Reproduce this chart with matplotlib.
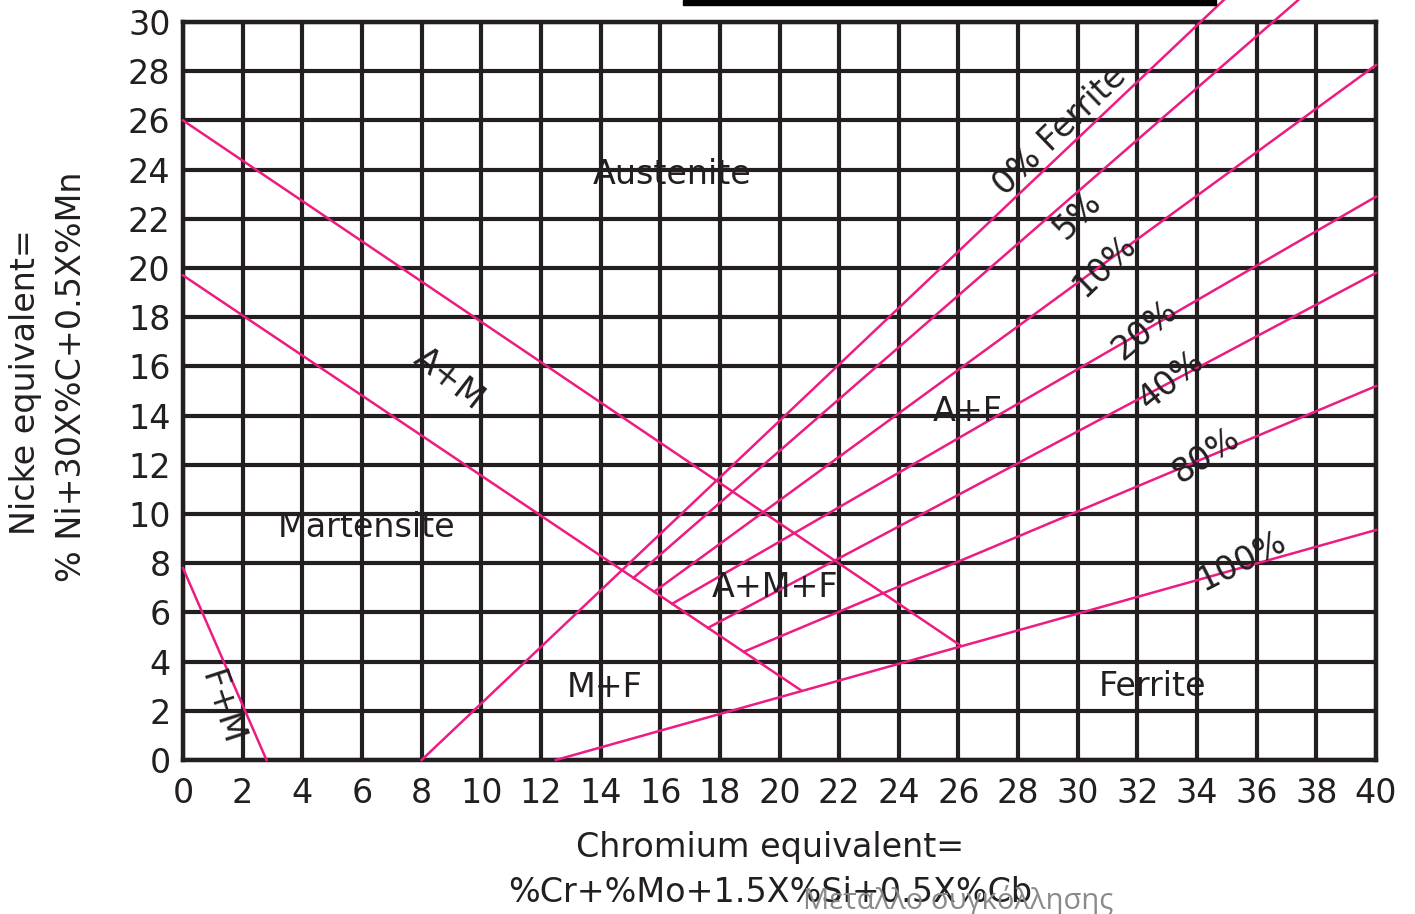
import matplotlib.pyplot as plt
from matplotlib.patches import Rectangle

# Schaeffler constitution diagram
cr_ticks = list(range(0, 41, 2))
ni_ticks = list(range(0, 31, 2))

# A / A+M and A+M / M boundaries, F+M corner line
am_upper_cr = [0.0, 26.05]
am_upper_ni = [26.0, 4.67]
am_lower_cr = [0.0, 20.7]
am_lower_ni = [19.7, 2.85]
fm_cr = [0.0, 2.8]
fm_ni = [7.8, 0.0]

# iso-ferrite lines: start and end points
ferrite_pct = ["0% Ferrite", "5%", "10%", "20%", "40%", "80%", "100%"]
ferrite_cr_start = [8.0, 15.1, 15.8, 16.4, 17.6, 18.8, 12.5]
ferrite_ni_start = [0.0, 7.4, 6.84, 6.35, 5.37, 4.4, 0.0]
ferrite_cr_end = [34.9, 37.4, 40.0, 40.0, 40.0, 40.0, 40.0]
ferrite_ni_end = [30.9, 30.9, 28.25, 22.9, 19.8, 15.2, 9.35]

# label placement along the ferrite lines
ferrite_lab_cr = [29.4, 30.0, 30.9, 32.25, 33.15, 34.3, 35.5]
ferrite_lab_ni = [25.6, 22.15, 20.1, 17.5, 15.45, 12.4, 8.1]
ferrite_lab_rot = [44, 45, 44, 40, 39, 34, 27]

regions = ["Austenite", "Martensite", "A+F", "A+M+F", "M+F", "Ferrite", "A+M", "F+M"]
region_cr = [16.4, 6.17, 26.3, 19.85, 14.15, 32.5, 8.9, 1.3]
region_ni = [23.8, 9.47, 14.15, 7.0, 2.93, 3.0, 15.5, 2.1]
region_rot = [0, 0, 0, 0, 0, 0, -38, -72]

INK = "#231f20"
PINK = "#ec1c80"

fig = plt.figure(figsize=(14.15, 9.14), dpi=100)
ax = fig.add_axes([183 / 1415, 154 / 914, 1193 / 1415, 738 / 914])

ax.set_xlim(0, 40)
ax.set_ylim(0, 30)
ax.set_xticks(cr_ticks)
ax.set_yticks(ni_ticks)
ax.tick_params(length=0, labelsize=24, colors=INK)
ax.tick_params(axis="x", pad=12)
ax.tick_params(axis="y", pad=9)
ax.grid(True, color=INK, lw=3.0)
ax.set_axisbelow(True)
for s in ax.spines.values():
    s.set_color(INK)
    s.set_linewidth(3.2)

line_kw = dict(color=PINK, lw=1.8, clip_on=False, zorder=3)
ax.plot(am_upper_cr, am_upper_ni, **line_kw)
ax.plot(am_lower_cr, am_lower_ni, **line_kw)
ax.plot(fm_cr, fm_ni, **line_kw)
for i in range(len(ferrite_pct)):
    ax.plot([ferrite_cr_start[i], ferrite_cr_end[i]],
            [ferrite_ni_start[i], ferrite_ni_end[i]], **line_kw)
    ax.text(ferrite_lab_cr[i], ferrite_lab_ni[i], ferrite_pct[i],
            rotation=ferrite_lab_rot[i], rotation_mode="anchor",
            ha="center", va="center", fontsize=24, color=INK, zorder=4)

for name, x, y, r in zip(regions, region_cr, region_ni, region_rot):
    ax.text(x, y, name, rotation=r, rotation_mode="anchor",
            ha="center", va="center", fontsize=24, color=INK, zorder=4)

# axis titles
fig.text(26 / 1415, 1 - 382 / 914, "Nicke equivalent=", rotation=90,
         ha="center", va="center", fontsize=24, color=INK)
fig.text(72 / 1415, 1 - 377 / 914, "% Ni+30X%C+0.5X%Mn", rotation=90,
         ha="center", va="center", fontsize=24, color=INK)
fig.text(770 / 1415, 1 - 848 / 914, "Chromium equivalent=",
         ha="center", va="center", fontsize=24, color=INK)
fig.text(770 / 1415, 1 - 893 / 914, "%Cr+%Mo+1.5X%Si+0.5X%Cb",
         ha="center", va="center", fontsize=24, color=INK)
fig.text(958 / 1415, 1 - 900 / 914, "Μεταλλο συγκόλλησης",
         ha="center", va="center", fontsize=21, color="#8a8a8a",
         family=["Open Sans", "DejaVu Sans"])

# underline of the heading above the chart
fig.patches.append(Rectangle((683 / 1415, 1 - 5 / 914), 533 / 1415, 5 / 914,
                             transform=fig.transFigure, color="black"))

fig.savefig("out.png", dpi=100)
